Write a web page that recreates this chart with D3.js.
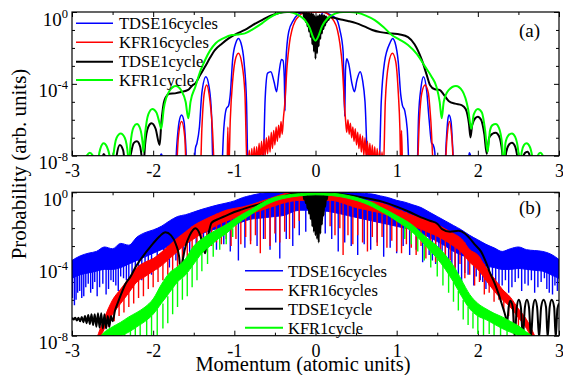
<!DOCTYPE html>
<html>
<head>
<meta charset="utf-8">
<script src="https://cdn.jsdelivr.net/npm/d3@7"></script>
<style>
  body { margin: 0; background: #fff; }
  svg text { font-family: "Liberation Serif", "Times New Roman", serif; fill: #000; }
</style>
</head>
<body>
<svg id="chart" width="563" height="375"></svg>
<script>
// ---- data (momentum in a.u., probability as log10 exponent) ----
const seriesNames = ["TDSE16cycles", "KFR16cycles", "TDSE1cycle", "KFR1cycle"];
const xTicks = [-3, -2, -1, 0, 1, 2, 3];
const xMinor = [-2.5, -1.5, -0.5, 0.5, 1.5, 2.5];
const yTicks = [1, 1e-4, 1e-8];
const yTickExp = ["0", "-4", "-8"];
const yMinor = [1e-1, 1e-2, 1e-3, 1e-5, 1e-6, 1e-7];

// panel (a): 16 cycle TDSE
const tdse16A = [[-3,-9],[-1.93,-9],[-1.91,-8.0],[-1.90,-7.9],[-1.89,-8.0],[-1.87,-9],
  [-1.73,-9],[-1.71,-7.5],[-1.68,-6.1],[-1.65,-5.73],[-1.62,-6.1],[-1.60,-7.3],[-1.58,-9],
  [-1.50,-9],[-1.48,-7.6],[-1.46,-7.3],[-1.43,-6.4],[-1.40,-4.5],[-1.35,-3.6],[-1.31,-4.2],[-1.28,-5.8],[-1.26,-9],
  [-1.16,-9],[-1.13,-6.5],[-1.10,-5.4],[-1.07,-5.2],[-1.05,-4.6],[-1.02,-2.6],[-0.98,-1.7],[-0.95,-1.47],[-0.92,-1.7],[-0.88,-2.8],[-0.85,-5.0],[-0.83,-9],
  [-0.65,-9],[-0.62,-4.8],[-0.59,-3.4],[-0.55,-3.32],[-0.51,-3.9],[-0.48,-4.44],[-0.45,-3.4],[-0.42,-2.65],[-0.40,-2.7],[-0.385,-3.6],[-0.375,-5.5],[-0.365,-2.8],
  [-0.33,-1.1],[-0.27,-0.45],[-0.19,-0.07],[-0.1,0],[-0.05,-0.5],[0,-2.1],[0.05,-0.5],[0.1,-0.02],[0.2,-0.2],[0.26,-0.4],[0.30,-1.0],[0.34,-2.2],
  [0.36,-5.8],[0.37,-3.2],[0.385,-2.6],[0.41,-2.9],[0.45,-4.0],[0.48,-4.44],[0.51,-3.8],[0.55,-3.32],[0.58,-3.8],[0.61,-5.0],[0.65,-9],
  [0.78,-9],[0.81,-5.0],[0.85,-2.8],[0.92,-1.7],[0.95,-1.47],[0.98,-1.7],[1.02,-2.8],[1.05,-4.6],[1.07,-5.18],[1.10,-5.5],[1.13,-6.5],[1.16,-9],
  [1.25,-9],[1.27,-5.8],[1.30,-4.2],[1.33,-3.6],[1.37,-4.4],[1.40,-6.0],[1.43,-7.3],[1.45,-7.4],[1.47,-7.8],[1.48,-9],
  [1.59,-9],[1.61,-7.3],[1.63,-6.0],[1.645,-5.73],[1.67,-6.1],[1.69,-7.5],[1.71,-9],
  [1.87,-9],[1.89,-8.0],[1.895,-7.83],[1.91,-8.0],[1.92,-9],[3,-9]];

// panel (a): 16 cycle KFR
const kfr16A = [[-3,-9],[-1.72,-9],[-1.69,-7.0],[-1.65,-6.1],[-1.61,-7.0],[-1.59,-9],
  [-1.42,-9],[-1.40,-6.5],[-1.37,-4.5],[-1.34,-4.06],[-1.31,-4.6],[-1.27,-6.5],[-1.24,-9],
  [-1.09,-9],[-1.08,-6.4],[-1.07,-9],[-1.05,-6.0],[-1.02,-3.8],[-0.99,-2.7],[-0.95,-2.3],[-0.91,-2.8],[-0.87,-4.5],[-0.84,-9],
  [-0.815,-7.7],[-0.80,-8.8],[-0.785,-7.6],[-0.77,-8.6],[-0.755,-7.5],[-0.74,-8.5],[-0.725,-7.5],[-0.71,-8.4],[-0.695,-7.3],
  [-0.68,-8.3],[-0.665,-7.2],[-0.65,-8.2],[-0.635,-7.1],[-0.62,-8.0],[-0.605,-7.0],[-0.59,-7.9],[-0.575,-6.9],[-0.56,-7.8],
  [-0.545,-6.7],[-0.53,-7.6],[-0.515,-6.6],[-0.50,-7.4],[-0.485,-6.4],[-0.47,-7.2],[-0.455,-6.3],[-0.44,-7.0],[-0.425,-6.1],
  [-0.41,-6.8],[-0.395,-5.9],[-0.38,-5.2],[-0.35,-3.0],[-0.32,-1.7],[-0.29,-1.0],[-0.25,-0.5],[-0.21,-0.26],[-0.15,-0.05],
  [-0.09,0],[0,-0.02],[0.09,0],[0.15,-0.1],[0.22,-0.45],[0.27,-1.0],[0.30,-1.74],[0.33,-3.0],[0.355,-5.0],[0.37,-6.0],
  [0.385,-6.7],[0.40,-6.0],[0.415,-6.8],[0.43,-6.2],[0.445,-7.0],[0.46,-6.4],[0.475,-7.2],[0.49,-6.5],[0.505,-7.4],[0.52,-6.7],
  [0.535,-7.6],[0.55,-6.8],[0.565,-7.8],[0.58,-6.9],[0.595,-8.0],[0.61,-7.0],[0.625,-8.1],[0.64,-7.2],[0.655,-8.3],[0.67,-7.3],
  [0.685,-8.4],[0.70,-7.4],[0.715,-8.5],[0.73,-7.5],[0.745,-8.6],[0.76,-7.6],[0.775,-8.7],[0.79,-7.7],[0.805,-8.8],[0.82,-7.8],
  [0.835,-9],[0.86,-5.0],[0.90,-2.9],[0.947,-2.3],[0.99,-2.8],[1.02,-4.5],[1.04,-6.5],[1.05,-8.5],[1.06,-6.6],[1.075,-9],
  [1.25,-9],[1.28,-6.0],[1.31,-4.5],[1.35,-4.06],[1.39,-4.5],[1.42,-6.0],[1.46,-9],
  [1.59,-9],[1.62,-7.0],[1.65,-6.1],[1.68,-7.0],[1.71,-9],[3,-9]];

// panel (a): 1 cycle TDSE
const tdse1A = [[-3,-9],[-2.66,-9],[-2.64,-8.4],[-2.61,-7.9],[-2.58,-8.2],[-2.55,-9],[-2.47,-9],[-2.45,-8.0],[-2.41,-7.4],
  [-2.37,-7.7],[-2.33,-9],[-2.28,-8.0],[-2.24,-7.3],[-2.20,-7.2],[-2.16,-7.5],[-2.12,-8.6],[-2.10,-7.4],[-2.06,-6.4],
  [-2.02,-6.2],[-1.97,-6.5],[-1.92,-7.4],[-1.90,-6.2],[-1.86,-4.9],[-1.80,-4.55],[-1.73,-4.53],[-1.65,-4.45],[-1.57,-4.34],
  [-1.52,-4.1],[-1.48,-3.97],[-1.42,-3.5],[-1.36,-3.04],[-1.30,-2.55],[-1.24,-2.12],[-1.15,-1.75],[-1.07,-1.47],[-0.97,-1.2],
  [-0.87,-1.0],[-0.77,-0.72],[-0.66,-0.45],[-0.56,-0.22],[-0.46,-0.07],[-0.35,0],[-0.25,0],[-0.17,-0.03],
  [-0.15,-0.05],[-0.14,-0.3],[-0.13,-0.03],[-0.12,-0.55],[-0.11,-0.03],[-0.10,-0.8],[-0.09,-0.04],[-0.08,-1.1],[-0.07,-0.05],
  [-0.06,-1.4],[-0.05,-0.06],[-0.04,-1.8],[-0.03,-0.1],[-0.02,-2.2],[-0.01,-0.2],[0,-2.6],[0.01,-0.25],[0.02,-2.3],[0.03,-0.2],
  [0.04,-1.9],[0.05,-0.15],[0.06,-1.5],[0.07,-0.15],[0.08,-1.2],[0.09,-0.15],[0.10,-0.95],[0.11,-0.2],[0.12,-0.75],[0.13,-0.25],
  [0.14,-0.55],[0.15,-0.3],[0.16,-0.45],[0.17,-0.3],
  [0.2,-0.3],[0.3,-0.4],[0.4,-0.5],[0.5,-0.62],[0.6,-0.8],[0.7,-1.0],[0.8,-1.12],[0.94,-1.2],[1.04,-1.25],[1.14,-1.4],
  [1.22,-1.8],[1.31,-2.67],[1.37,-3.5],[1.41,-4.06],[1.47,-4.3],[1.53,-4.34],[1.58,-4.6],[1.64,-4.95],[1.72,-5.1],[1.80,-5.18],
  [1.85,-5.4],[1.89,-6.2],[1.91,-6.98],[1.93,-6.3],[1.97,-5.9],[2.0,-5.83],[2.04,-6.0],[2.08,-6.8],[2.11,-7.9],[2.14,-7.0],
  [2.18,-6.78],[2.22,-6.72],[2.26,-6.9],[2.30,-7.8],[2.32,-9],[2.35,-7.8],[2.39,-7.35],[2.42,-7.28],[2.46,-7.5],[2.50,-8.4],
  [2.52,-9],[2.55,-8.2],[2.58,-7.85],[2.61,-7.78],[2.64,-8.0],[2.67,-8.8],[2.69,-9],[3,-9]];

// panel (a): 1 cycle KFR
const kfr1A = [[-3,-9],[-2.86,-9],[-2.84,-8.3],[-2.81,-7.95],[-2.78,-7.83],[-2.75,-7.95],[-2.71,-8.6],[-2.69,-9],[-2.68,-8.4],
  [-2.65,-7.6],[-2.61,-7.31],[-2.57,-7.5],[-2.53,-8.2],[-2.51,-9],[-2.49,-8.0],[-2.45,-7.0],[-2.40,-6.76],[-2.35,-7.0],
  [-2.31,-8.0],[-2.30,-9],[-2.28,-7.4],[-2.24,-6.4],[-2.20,-6.24],[-2.16,-6.5],[-2.13,-7.3],[-2.12,-7.8],[-2.10,-6.8],
  [-2.06,-5.7],[-2.01,-5.40],[-1.96,-5.6],[-1.92,-6.2],[-1.90,-6.5],[-1.87,-5.4],[-1.80,-4.4],[-1.72,-4.12],[-1.65,-4.4],
  [-1.60,-5.0],[-1.567,-5.92],[-1.54,-5.0],[-1.48,-4.16],[-1.42,-3.3],[-1.36,-2.67],[-1.30,-2.15],[-1.23,-1.74],[-1.13,-1.45],
  [-1.03,-1.28],[-0.95,-1.25],[-0.87,-1.19],[-0.77,-0.95],[-0.66,-0.63],[-0.56,-0.3],[-0.46,-0.07],[-0.38,0],[-0.32,0],
  [-0.22,-0.15],[-0.13,-0.45],[-0.07,-0.9],[-0.03,-1.4],[0.0,-1.6],[0.03,-1.4],[0.08,-0.8],[0.15,-0.35],[0.25,-0.08],[0.34,0],
  [0.42,0],[0.52,-0.05],[0.62,-0.2],[0.73,-0.45],[0.84,-0.85],[0.94,-1.28],[1.04,-1.55],[1.14,-1.84],[1.25,-2.35],[1.35,-3.04],
  [1.43,-3.6],[1.49,-4.16],[1.53,-5.0],[1.555,-5.92],[1.58,-5.0],[1.64,-4.35],[1.73,-4.12],[1.81,-4.4],[1.88,-5.4],[1.92,-6.5],
  [1.95,-5.7],[2.0,-5.4],[2.05,-5.6],[2.09,-6.6],[2.12,-7.8],[2.15,-6.6],[2.18,-6.3],[2.22,-6.24],[2.26,-6.45],[2.30,-7.4],
  [2.32,-9],[2.34,-7.3],[2.38,-6.85],[2.42,-6.76],[2.46,-6.95],[2.50,-7.8],[2.52,-9],[2.54,-7.8],[2.57,-7.4],[2.60,-7.31],
  [2.64,-7.5],[2.68,-8.3],[2.70,-9],[2.72,-8.3],[2.75,-7.9],[2.77,-7.83],[2.80,-8.0],[2.83,-8.6],[2.85,-9],[3.0,-9]];

// panel (b): noisy series as [x, upper, lower] bands plus [x, from, to] spikes
const tdse16B = [[-3.0,-3.8,-4.8],[-2.9,-3.55,-4.6],[-2.8,-3.4,-4.5],[-2.7,-3.3,-4.4],[-2.6,-3.05,-4.3],[-2.5,-3.15,-4.3],
  [-2.4,-2.85,-4.2],[-2.3,-2.95,-4.0],[-2.2,-2.5,-3.8],[-2.1,-2.25,-3.6],[-2.0,-2.1,-3.4],[-1.9,-1.9,-3.2],[-1.8,-1.6,-3.0],
  [-1.7,-1.35,-2.8],[-1.6,-1.25,-2.6],[-1.5,-1.1,-2.45],[-1.4,-0.95,-2.3],[-1.3,-0.82,-2.15],[-1.2,-0.7,-2.0],[-1.1,-0.6,-1.9],
  [-1.0,-0.48,-1.8],[-0.9,-0.3,-1.65],[-0.8,-0.18,-1.5],[-0.7,-0.08,-1.45],[-0.6,-0.02,-1.4],[-0.5,0,-1.35],[-0.4,0,-1.3],
  [-0.2,0,-1.0],[0,0,-1.0],[0.2,0,-1.1],[0.4,0,-1.3],[0.5,-0.03,-1.4],[0.6,-0.06,-1.5],[0.7,-0.1,-1.6],[0.8,-0.2,-1.7],
  [0.9,-0.3,-1.8],[1.0,-0.45,-1.9],[1.1,-0.55,-2.0],[1.2,-0.7,-2.1],[1.3,-0.85,-2.3],[1.4,-1.1,-2.5],[1.5,-1.35,-2.75],
  [1.6,-1.6,-3.0],[1.7,-1.85,-3.3],[1.8,-2.1,-3.5],[1.9,-2.4,-3.7],[2.0,-2.65,-3.9],[2.1,-2.9,-4.1],[2.2,-3.1,-4.2],
  [2.3,-3.3,-4.3],[2.4,-3.15,-4.3],[2.5,-3.05,-4.25],[2.6,-3.2,-4.3],[2.7,-3.25,-4.35],[2.8,-3.3,-4.4],[2.9,-3.45,-4.6],[3.0,-3.75,-4.8]];
const tdse16BSpikes = [[-2.97,-4.5,-6.3],[-2.93,-4.4,-5.6],[-2.88,-4.3,-5.9],[-2.83,-4.3,-5.3],[-2.77,-4.2,-5.6],[-2.72,-4.1,-5.0],
  [-2.66,-4.0,-5.3],[-2.58,-4.0,-5.7],[-2.52,-4.0,-4.9],[-2.46,-3.9,-5.2],[-2.4,-3.8,-4.7],[-2.33,-3.6,-4.9],[-2.26,-3.5,-4.5],
  [-2.18,-3.4,-4.6],[-2.1,-3.3,-4.4],[-2.02,-3.2,-4.6],[-1.95,-3.0,-4.3],[-1.87,-2.8,-3.9],[-1.8,-2.8,-4.2],[-1.72,-2.6,-3.8],
  [-1.63,-2.5,-3.9],[-1.55,-2.3,-3.6],[-1.47,-2.2,-3.4],[-1.38,-2.1,-3.3],[-1.3,-2.0,-3.0],[-1.22,-1.9,-3.2],[-1.13,-1.8,-2.9],
  [-1.05,-1.7,-3.3],[-0.95,-1.6,-3.8],[-0.87,-1.5,-3.1],[-0.8,-1.4,-2.7],[-0.72,-1.4,-3.0],[-0.64,-1.3,-2.6],[-0.56,-1.3,-3.2],
  [-0.49,-1.3,-2.8],[-0.44,-1.3,-3.7],[-0.36,-1.2,-2.6],[-0.28,-1.1,-3.0],[-0.2,-1.0,-2.4],[-0.12,-1.0,-2.2],[0.12,-1.0,-2.3],
  [0.2,-1.0,-2.6],[0.28,-1.1,-3.3],[0.36,-1.2,-2.8],[0.44,-1.3,-3.0],[0.52,-1.4,-3.5],[0.6,-1.4,-2.9],[0.68,-1.5,-3.2],
  [0.76,-1.6,-2.8],[0.84,-1.6,-3.6],[0.92,-1.7,-3.1],[1.0,-1.8,-3.4],[1.08,-1.9,-3.0],[1.16,-2.0,-3.5],[1.24,-2.0,-3.2],
  [1.32,-2.2,-3.9],[1.4,-2.4,-3.5],[1.48,-2.6,-4.0],[1.56,-2.8,-3.8],[1.64,-3.0,-4.5],[1.72,-3.2,-4.2],[1.8,-3.4,-5.0],
  [1.88,-3.6,-4.6],[1.95,-3.7,-5.2],[2.03,-3.8,-4.9],[2.1,-4.0,-5.4],[2.18,-4.1,-5.0],[2.26,-4.2,-5.5],[2.34,-4.2,-4.9],
  [2.42,-4.2,-5.3],[2.5,-4.2,-4.8],[2.58,-4.2,-5.1],[2.66,-4.2,-4.9],[2.74,-4.3,-5.3],[2.82,-4.3,-4.8],[2.88,-4.4,-5.6],[2.95,-4.6,-5.2],
  [-2.995,-4.6,-5.9],[-2.95,-4.5,-6.0],[-2.905,-4.4,-5.5],[-2.855,-4.3,-5.8],[-2.8,-4.3,-5.1],[-2.745,-4.2,-5.4],[-2.69,-4.1,-5.8],
  [-2.62,-4.0,-5.1],[-2.55,-4.0,-5.4],[-2.49,-3.95,-5.0],[-2.43,-3.85,-5.5],[-2.365,-3.7,-4.8],[-2.3,-3.55,-5.0],[-2.22,-3.45,-4.7],
  [-2.14,-3.35,-4.9],[-2.06,-3.25,-4.4],[1.44,-2.5,-3.8],[1.52,-2.7,-3.7],[1.6,-2.9,-4.2],[1.68,-3.1,-4.1],[1.76,-3.3,-4.6],
  [1.84,-3.5,-4.5],[1.98,-3.75,-4.7],[2.06,-3.9,-5.0],[2.14,-4.05,-5.2],[2.22,-4.15,-5.3],[2.3,-4.2,-5.2],[2.38,-4.2,-5.6],
  [2.46,-4.2,-5.0],[2.54,-4.2,-5.5],[2.62,-4.2,-5.2],[2.7,-4.25,-5.6],[2.78,-4.3,-5.0],[2.85,-4.35,-5.4],[2.92,-4.5,-5.7],[2.98,-4.7,-5.5]];

const kfr16B = [[-2.7,-8.2,-8.6],[-2.6,-7.0,-7.6],[-2.5,-6.0,-6.8],[-2.4,-5.4,-6.2],[-2.3,-4.8,-5.6],[-2.2,-4.2,-5.0],
  [-2.1,-3.9,-4.7],[-2.0,-3.7,-4.4],[-1.9,-3.35,-4.1],[-1.8,-2.95,-3.7],[-1.7,-2.55,-3.3],[-1.6,-2.2,-2.9],[-1.5,-1.85,-2.6],
  [-1.4,-1.6,-2.3],[-1.3,-1.38,-2.05],[-1.2,-1.18,-1.8],[-1.1,-1.0,-1.6],[-1.0,-0.9,-1.45],[-0.9,-0.82,-1.35],[-0.8,-0.7,-1.2],
  [-0.7,-0.55,-1.05],[-0.6,-0.4,-0.9],[-0.5,-0.25,-0.75],[-0.4,-0.1,-0.6],[-0.3,-0.02,-0.5],[-0.2,0,-0.45],[0,0,-0.45],
  [0.2,0,-0.45],[0.3,-0.1,-0.55],[0.4,-0.22,-0.7],[0.5,-0.35,-0.85],[0.6,-0.45,-0.95],[0.7,-0.52,-1.05],[0.8,-0.6,-1.15],
  [0.9,-0.75,-1.3],[1.0,-0.95,-1.5],[1.1,-1.12,-1.7],[1.2,-1.3,-1.9],[1.3,-1.45,-2.05],[1.4,-1.6,-2.25],[1.5,-1.8,-2.45],
  [1.6,-2.05,-2.7],[1.7,-2.3,-3.0],[1.8,-2.6,-3.35],[1.9,-3.2,-3.9],[2.0,-3.5,-4.3],[2.1,-4.2,-4.9],[2.2,-4.8,-5.5],
  [2.3,-5.4,-6.0],[2.4,-5.85,-6.4],[2.5,-6.5,-7.0],[2.6,-7.1,-7.6],[2.7,-8.0,-8.5]];
const kfr16BSpikes = [[-2.55,-6.5,-7.5],[-2.48,-6.1,-7.2],[-2.42,-5.6,-6.9],[-2.36,-5.2,-6.7],[-2.3,-4.9,-6.4],[-2.24,-4.5,-6.2],
  [-2.18,-4.2,-5.9],[-2.12,-4.0,-5.8],[-2.06,-3.8,-5.4],[-2.0,-3.7,-5.3],[-1.94,-3.5,-5.0],[-1.88,-3.3,-4.9],[-1.82,-3.0,-4.6],
  [-1.76,-2.8,-4.4],[-1.7,-2.6,-4.2],[-1.64,-2.4,-4.3],[-1.58,-2.2,-3.9],[-1.52,-1.9,-3.8],[-1.46,-1.8,-3.5],[-1.4,-1.6,-3.4],
  [-1.34,-1.5,-3.1],[-1.28,-1.4,-3.0],[-1.22,-1.2,-2.8],[-1.16,-1.1,-2.9],[-1.1,-1.0,-2.6],[-1.04,-0.95,-3.0],[-0.98,-0.9,-2.6],
  [-0.92,-0.85,-2.9],[-0.86,-0.8,-2.5],[-0.8,-0.7,-2.9],[-0.74,-0.6,-2.4],[-0.68,-0.55,-3.4],[-0.62,-0.45,-2.6],[-0.56,-0.35,-3.0],
  [-0.5,-0.25,-2.3],[-0.44,-0.15,-2.8],[-0.38,-0.1,-2.2],[-0.32,-0.05,-2.6],[-0.26,0,-2.0],[-0.2,0,-1.6],[0.18,0,-1.9],
  [0.24,0,-2.4],[0.3,-0.1,-2.0],[0.34,-0.15,-3.5],[0.4,-0.2,-2.4],[0.46,-0.3,-2.9],[0.52,-0.35,-2.4],[0.58,-0.4,-2.8],
  [0.64,-0.45,-3.3],[0.7,-0.5,-2.5],[0.76,-0.55,-3.0],[0.82,-0.6,-2.5],[0.88,-0.7,-3.1],[0.94,-0.8,-2.7],[1.0,-0.95,-3.3],
  [1.06,-1.0,-3.4],[1.12,-1.1,-2.9],[1.18,-1.25,-3.1],[1.24,-1.35,-3.5],[1.3,-1.45,-3.0],[1.36,-1.5,-3.7],[1.42,-1.65,-3.3],
  [1.48,-1.75,-3.9],[1.54,-1.9,-3.5],[1.6,-2.05,-4.0],[1.66,-2.2,-3.8],[1.72,-2.4,-4.3],[1.78,-2.55,-4.0],[1.84,-2.8,-4.8],
  [1.9,-3.2,-4.6],[1.96,-3.4,-5.2],[2.02,-3.6,-5.0],[2.08,-4.0,-5.7],[2.14,-4.4,-5.6],[2.2,-4.8,-6.1],[2.26,-5.1,-6.0],
  [2.32,-5.5,-6.6],[2.38,-5.8,-6.9],[2.44,-6.2,-7.3],[2.5,-6.5,-7.5]];

const tdse1B = [[-3.0,-7.0],[-2.98,-7.1],[-2.96,-7.0],[-2.94,-7.15],[-2.92,-7.0],[-2.90,-7.2],[-2.88,-6.95],[-2.86,-7.25],
  [-2.84,-6.9],[-2.82,-7.3],[-2.80,-6.85],[-2.78,-7.35],[-2.76,-6.8],[-2.74,-7.4],[-2.72,-6.8],[-2.70,-7.5],[-2.68,-6.75],
  [-2.66,-7.55],[-2.64,-6.75],[-2.62,-7.6],[-2.60,-6.8],[-2.58,-7.6],[-2.56,-6.9],[-2.54,-7.5],[-2.52,-6.9],[-2.50,-7.2],
  [-2.47,-6.6],[-2.43,-6.1],[-2.39,-5.63],[-2.34,-5.1],[-2.28,-4.71],[-2.22,-4.2],[-2.16,-3.78],[-2.08,-3.3],[-2.0,-2.85],
  [-1.92,-2.45],[-1.85,-2.23],[-1.78,-2.4],[-1.72,-2.9],[-1.68,-3.6],[-1.66,-4.5],[-1.64,-3.9],[-1.6,-3.0],[-1.55,-2.4],
  [-1.48,-2.0],[-1.42,-2.4],[-1.38,-3.1],[-1.36,-3.4],[-1.33,-2.6],[-1.28,-1.7],[-1.2,-1.5],[-1.1,-1.3],[-1.0,-1.1],
  [-0.9,-0.95],[-0.8,-0.8],[-0.68,-0.65],[-0.55,-0.4],[-0.44,-0.3],[-0.3,-0.1],[-0.2,-0.05],
  [-0.15,-0.05],[-0.14,-0.4],[-0.13,-0.05],[-0.12,-0.6],[-0.11,-0.05],[-0.10,-0.9],[-0.09,-0.05],[-0.08,-1.2],[-0.07,-0.05],
  [-0.06,-1.5],[-0.05,-0.05],[-0.04,-1.9],[-0.03,-0.05],[-0.02,-2.2],[-0.01,-0.1],[0,-2.4],[0.01,-0.1],[0.02,-2.6],[0.03,-0.1],
  [0.04,-2.8],[0.05,-0.1],[0.06,-2.3],[0.07,-0.1],[0.08,-1.8],[0.09,-0.1],[0.10,-1.3],[0.11,-0.1],[0.12,-0.8],[0.13,-0.1],
  [0.14,-0.4],[0.15,-0.05],
  [0.2,-0.05],[0.4,-0.15],[0.6,-0.3],[0.82,-0.52],[1.0,-0.8],[1.16,-1.1],[1.3,-1.4],[1.42,-1.6],[1.5,-1.75],[1.56,-2.05],
  [1.66,-2.2],[1.76,-2.15],[1.84,-2.3],[1.9,-2.57],[1.97,-2.95],[2.04,-3.31],[2.1,-3.9],[2.15,-4.5],[2.2,-5.0],[2.25,-5.6],
  [2.3,-6.3],[2.34,-6.9],[2.36,-7.3],[2.38,-6.4],[2.40,-6.05],[2.43,-6.4],[2.455,-8.1],[2.48,-6.4],[2.505,-6.0],[2.53,-6.4],
  [2.555,-8.1],[2.58,-6.4],[2.605,-6.0],[2.63,-6.4],[2.655,-8.1],[2.68,-6.4],[2.705,-6.0],[2.73,-6.4],[2.755,-8.1],[2.78,-6.4],
  [2.81,-6.0],[2.84,-6.4],[2.86,-8.1],[2.885,-6.4],[2.91,-6.0],[2.94,-6.4],[2.96,-8.1],[2.98,-6.5],[3.0,-6.2]];

const kfr1B = [[-2.7,-8.3,-8.6],[-2.6,-7.8,-8.4],[-2.5,-7.5,-8.2],[-2.4,-7.25,-8.0],[-2.3,-6.95,-7.8],[-2.2,-6.7,-7.5],
  [-2.1,-6.4,-7.2],[-2.0,-5.95,-6.8],[-1.9,-5.15,-6.2],[-1.8,-4.5,-5.6],[-1.7,-4.15,-5.0],[-1.6,-3.7,-4.6],[-1.5,-3.0,-4.0],
  [-1.4,-2.6,-3.4],[-1.3,-2.3,-3.0],[-1.2,-2.05,-2.6],[-1.1,-1.8,-2.3],[-1.0,-1.5,-1.9],[-0.9,-1.22,-1.55],[-0.8,-0.97,-1.25],
  [-0.7,-0.7,-0.95],[-0.6,-0.45,-0.68],[-0.5,-0.28,-0.48],[-0.4,-0.18,-0.35],[-0.3,-0.12,-0.26],[-0.2,-0.08,-0.2],[0,-0.02,-0.14],
  [0.2,-0.05,-0.18],[0.3,-0.1,-0.24],[0.4,-0.18,-0.33],[0.5,-0.28,-0.45],[0.6,-0.42,-0.6],[0.7,-0.58,-0.8],[0.8,-0.82,-1.05],
  [0.9,-1.05,-1.3],[1.0,-1.3,-1.6],[1.1,-1.55,-1.9],[1.2,-1.85,-2.25],[1.3,-2.25,-2.7],[1.4,-2.65,-3.2],[1.5,-3.0,-3.7],
  [1.6,-3.5,-4.3],[1.7,-4.1,-5.0],[1.8,-4.9,-5.8],[1.9,-5.7,-6.5],[2.0,-6.2,-6.9],[2.1,-6.5,-7.1],[2.2,-6.75,-7.35],
  [2.3,-6.95,-7.6],[2.4,-7.2,-7.8],[2.5,-7.45,-8.0],[2.6,-7.8,-8.3],[2.7,-8.1,-8.6]];
const kfr1BSpikes = [[-2.35,-7.9,-8.6],[-2.28,-7.6,-8.6],[-2.22,-7.5,-8.6],[-2.16,-7.3,-8.6],[-2.08,-7.1,-8.4],[-2.02,-6.9,-8.3],
  [-1.95,-6.5,-8.0],[-1.88,-6.2,-7.6],[-1.82,-5.8,-7.3],[-1.76,-5.3,-6.8],[-1.7,-5.0,-6.4],[-1.64,-4.8,-6.0],[-1.58,-4.5,-5.8],
  [-1.52,-4.1,-5.3],[-1.46,-3.7,-4.9],[-1.4,-3.4,-4.4],[-1.33,-3.1,-4.0],[-1.26,-2.8,-3.6],[-1.18,-2.5,-3.2],[-1.1,-2.3,-2.9],
  [-1.02,-2.0,-2.5],[1.1,-1.9,-2.6],[1.18,-2.2,-2.9],[1.26,-2.5,-3.3],[1.34,-2.9,-3.8],[1.42,-3.3,-4.2],[1.5,-3.7,-4.7],
  [1.57,-4.1,-5.2],[1.64,-4.5,-5.6],[1.7,-5.0,-6.1],[1.76,-5.5,-6.6],[1.82,-6.0,-7.1],[1.88,-6.4,-7.4],[1.94,-6.7,-7.6],
  [2.0,-6.9,-7.9],[2.07,-7.0,-8.1],[2.14,-7.2,-7.9],[2.2,-7.3,-8.3],[2.28,-7.5,-8.5],[2.36,-7.7,-8.4]];

const colors = ["#0000ff", "#ff0000", "#000000", "#00ff00"];
const widths = [1.5, 1.5, 2, 2];
const FONT = "'Liberation Serif', 'Times New Roman', serif";

// ---- scales ----
const svg = d3.select("#chart").attr("font-family", FONT);
const x = d3.scaleLinear().domain([-3, 3]).range([72, 559]);
const yA = d3.scaleLog().domain([1e-8, 1]).range([155.7, 12]);
const yB = d3.scaleLog().domain([1e-8, 1]).range([335.7, 192.3]);
const pw = v => Math.pow(10, v);

// frame ticks and labels of one panel
function drawFrame(y, name, tag, tagY) {
  const [bot, top] = y.range();
  svg.append("clipPath").attr("id", "clip-" + name)
    .append("rect").attr("x", 72).attr("y", top).attr("width", 487).attr("height", bot - top);

  const g = svg.append("g");
  g.append("g").attr("transform", `translate(0,${bot})`)
    .call(d3.axisBottom(x).tickValues(xTicks).tickSize(-5).tickPadding(9).tickFormat(d => String(d)));
  g.append("g").attr("transform", `translate(0,${bot})`)
    .call(d3.axisBottom(x).tickValues(xMinor).tickSize(-3).tickFormat(""));
  g.append("g").attr("transform", `translate(0,${top})`)
    .call(d3.axisTop(x).tickValues(xTicks).tickSize(-5).tickFormat(""));
  g.append("g").attr("transform", `translate(0,${top})`)
    .call(d3.axisTop(x).tickValues(xMinor).tickSize(-3).tickFormat(""));
  g.append("g").attr("transform", "translate(72,0)")
    .call(d3.axisLeft(y).tickValues(yTicks).tickSize(-5).tickFormat(""));
  g.append("g").attr("transform", "translate(72,0)")
    .call(d3.axisLeft(y).tickValues(yMinor).tickSize(-3).tickFormat(""));
  g.append("g").attr("transform", "translate(559,0)")
    .call(d3.axisRight(y).tickValues(yTicks).tickSize(-5).tickFormat(""));
  g.append("g").attr("transform", "translate(559,0)")
    .call(d3.axisRight(y).tickValues(yMinor).tickSize(-3).tickFormat(""));
  g.selectAll("g").attr("font-family", FONT);
  g.selectAll(".domain").remove();
  g.selectAll(".tick line").attr("stroke", "#000").attr("stroke-width", 1);
  g.selectAll(".tick text").attr("font-size", 18).attr("font-family", FONT);

  // y labels 10^n
  yTicks.forEach((v, i) => {
    const t = svg.append("text").attr("x", 68).attr("y", y(v) + 13.5)
      .attr("text-anchor", "end").attr("font-size", 19).attr("font-family", FONT);
    t.append("tspan").text("10");
    t.append("tspan").attr("dy", -8).attr("font-size", 12.5).text(yTickExp[i]);
  });

  svg.append("text").attr("x", 519).attr("y", tagY).attr("font-size", 19)
    .attr("font-family", FONT).text(tag);
}

const line = y => d3.line().x(d => x(d[0])).y(d => y(pw(d[1]))).curve(d3.curveMonotoneX);
const band = y => d3.area().x(d => x(d[0])).y0(d => y(pw(d[2]))).y1(d => y(pw(d[1]))).curve(d3.curveMonotoneX);

// ---- panel (a) ----
drawFrame(yA, "a", "(a)", 37);
const gA = svg.append("g").attr("clip-path", "url(#clip-a)");
[tdse16A, kfr16A, tdse1A, kfr1A].forEach((s, i) => {
  gA.append("path").datum(s).attr("d", line(yA)).attr("fill", "none")
    .attr("stroke", colors[i]).attr("stroke-width", widths[i]).attr("stroke-linejoin", "round");
});

// ---- panel (b) ----
drawFrame(yB, "b", "(b)", 214);
const gB = svg.append("g").attr("clip-path", "url(#clip-b)");
function noisy(rows, spikes, c) {
  gB.append("path").datum(rows).attr("d", band(yB)).attr("fill", c).attr("stroke", c).attr("stroke-width", 1);
  gB.selectAll(null).data(spikes).enter().append("line")
    .attr("x1", d => x(d[0])).attr("x2", d => x(d[0]))
    .attr("y1", d => yB(pw(d[1]))).attr("y2", d => yB(pw(d[2])))
    .attr("stroke", c).attr("stroke-width", 1.4);
}
noisy(tdse16B, tdse16BSpikes, colors[0]);
noisy(kfr16B, kfr16BSpikes, colors[1]);
gB.append("path").datum(tdse1B).attr("d", line(yB)).attr("fill", "none")
  .attr("stroke", colors[2]).attr("stroke-width", 2);
noisy(kfr1B, kfr1BSpikes, colors[3]);

// frames on top
[yA, yB].forEach(y => {
  const [bot, top] = y.range();
  svg.append("rect").attr("x", 72).attr("y", top).attr("width", 487).attr("height", bot - top)
    .attr("fill", "none").attr("stroke", "#000").attr("stroke-width", 1.2);
});

// ---- legends ----
function legend(x0, x1, tx, rows, dy) {
  seriesNames.forEach((n, i) => {
    svg.append("line").attr("x1", x0).attr("x2", x1).attr("y1", rows[i]).attr("y2", rows[i])
      .attr("stroke", colors[i]).attr("stroke-width", widths[i]);
    svg.append("text").attr("x", tx).attr("y", rows[i] + dy).attr("font-size", 16.5)
      .attr("font-family", FONT).text(n);
  });
}
legend(76, 113, 119, [23.3, 42.3, 61.7, 80], 5.5);
legend(245, 283, 288, [270.7, 289.7, 308.7, 327.7], 6);

// ---- axis titles ----
svg.append("text").attr("transform", "translate(26,164) rotate(-90)").attr("font-family", FONT)
  .attr("text-anchor", "middle").attr("font-size", 21).text("Probability (arb. units)");
svg.append("text").attr("x", 303).attr("y", 370.5).attr("font-family", FONT)
  .attr("text-anchor", "middle").attr("font-size", 20.5).text("Momentum (atomic units)");
</script>
</body>
</html>
